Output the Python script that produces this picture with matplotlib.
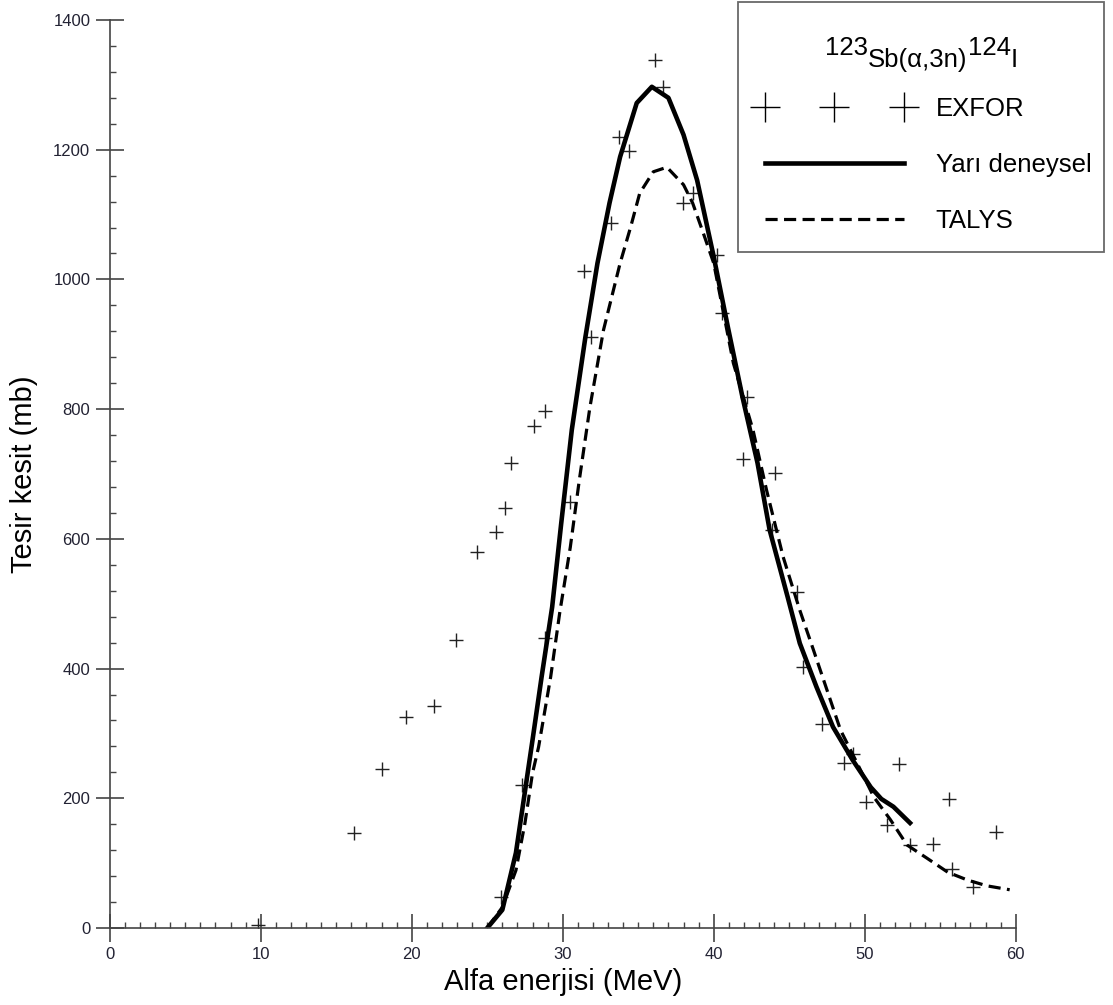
import numpy as np
import matplotlib
matplotlib.use("Agg")
import matplotlib.pyplot as plt
from matplotlib.lines import Line2D
from matplotlib.ticker import MultipleLocator

# EXFOR measurements (MeV, mb)
exfor_e = [9.8, 16.2, 18.0, 19.6, 21.5, 22.9, 24.3, 25.6, 25.9, 26.2, 26.6, 27.3, 28.1, 28.8,
           28.8, 30.5, 31.4, 31.9, 33.2, 33.7, 34.4, 36.1, 36.65, 37.97, 38.6, 40.2, 40.56,
           41.95, 42.2, 43.87, 44.07, 45.5, 45.9, 47.2, 48.6, 49.2, 50.1, 51.5, 52.3, 53.0,
           54.5, 55.6, 55.8, 57.2, 58.7]
exfor_s = [5, 146, 245, 325, 342, 444, 580, 611, 48, 648, 717, 220, 774, 797,
           447, 657, 1013, 911, 1087, 1219, 1198, 1338, 1297, 1118, 1133, 1038, 948,
           723, 819, 614, 701, 518, 402, 315, 254, 268, 194, 159, 253, 128,
           130, 199, 91, 63, 148]

# semi-empirical curve
yd_e = [25.0, 26.0, 26.9, 28.0, 28.6, 29.3, 29.9, 30.6, 31.5, 32.3, 33.1, 33.8, 34.9, 35.9,
        37.0, 38.0, 38.9, 40.0, 40.95, 41.9, 42.9, 43.7, 44.9, 45.7, 46.8, 47.9, 49.2,
        50.4, 51.1, 51.9, 53.0]
yd_s = [0, 28, 116, 290, 387, 495, 624, 768, 911, 1025, 1118, 1189, 1272, 1297,
        1280, 1223, 1153, 1035, 925, 819, 717, 614, 510, 439, 372, 310, 259,
        217, 199, 187, 162]

# TALYS curve
ta_e = [25.0, 26.0, 26.9, 27.5, 28.0, 28.4, 29.2, 29.8, 30.5, 31.1, 31.8, 32.7, 33.8, 34.5,
        35.1, 36.0, 36.9, 38.0, 38.6, 39.3, 40.0, 41.3, 42.6, 43.5, 44.6, 45.7, 46.6,
        47.5, 48.4, 49.5, 50.6, 51.7, 52.8, 54.1, 55.5, 56.8, 58.1, 59.6]
ta_s = [0, 32, 89, 162, 239, 279, 387, 486, 587, 691, 803, 922, 1025, 1081,
        1133, 1166, 1173, 1146, 1118, 1072, 1025, 871, 768, 675, 572, 490, 429,
        367, 305, 254, 202, 167, 128, 108, 86, 74, 65, 59]

plt.rcParams['font.family'] = ['Liberation Sans', 'DejaVu Sans']

fig = plt.figure(figsize=(11.13, 10.05), dpi=100)
ax = fig.add_axes([0.0986, 0.0766, 0.8140, 0.9035])

ax.plot(exfor_e, exfor_s, ls='none', marker='+', ms=10, mew=1.0, color='#222222')
ax.plot(yd_e, yd_s, color='black', lw=3.3, solid_joinstyle='round')
ax.plot(ta_e, ta_s, color='black', lw=2.3, ls=(0, (3.8, 2.0)))

ax.set_xlim(0, 60)
ax.set_ylim(0, 1400)
ax.spines['top'].set_visible(False)
ax.spines['right'].set_visible(False)
for s in ('left', 'bottom'):
    ax.spines[s].set_color('#444444')
    ax.spines[s].set_linewidth(1.2)

ax.xaxis.set_major_locator(MultipleLocator(10))
ax.xaxis.set_minor_locator(MultipleLocator(1))
ax.yaxis.set_major_locator(MultipleLocator(200))
ax.yaxis.set_minor_locator(MultipleLocator(40))
ax.tick_params(which='major', direction='inout', length=20, width=1.2, color='#444444',
               labelsize=12, labelcolor='#222233', pad=4)
ax.tick_params(which='minor', direction='in', length=4, width=1.0, color='#444444')

ax.set_xlabel('Alfa enerjisi (MeV)', fontsize=21)
ax.set_ylabel('Tesir kesit (mb)', fontsize=21)
ax.xaxis.set_label_coords(0.5, -0.044)
ax.yaxis.set_label_coords(-0.079, 0.5)

handles = [
    Line2D([], [], ls='none', marker='+', ms=22, mew=1.0, color='black'),
    Line2D([], [], color='black', lw=3.3),
    Line2D([], [], color='black', lw=2.3, ls=(0, (3.8, 2.0))),
]
labels = ['EXFOR', 'Yarı deneysel', 'TALYS']
leg = fig.legend(handles, labels, loc='upper left',
                 bbox_to_anchor=(738 / 1113, 1 - 252 / 1005, 366 / 1113, 250 / 1005),
                 mode='expand', borderaxespad=0, numpoints=3, handlelength=6.0,
                 handletextpad=0.95, borderpad=0.75, labelspacing=1.24, fancybox=False,
                 edgecolor='#444444', title=' ', title_fontsize=33,
                 prop={'size': 18.5})
leg.get_frame().set_linewidth(1.3)
leg.get_frame().set_facecolor('none')

# reaction label over the legend entries
t1 = fig.text(825 / 1113, 1 - 60 / 1005, '123', fontsize=18.5, va='bottom')
t2 = ax.annotate('Sb(α,3n)', xy=(1, 0), xycoords=t1, xytext=(0, -12),
                 textcoords='offset pixels', fontsize=18.5, va='bottom',
                 annotation_clip=False)
t3 = ax.annotate('124', xy=(1, 0), xycoords=t2, xytext=(0, 12),
                 textcoords='offset pixels', fontsize=18.5, va='bottom',
                 annotation_clip=False)
ax.annotate('I', xy=(1, 0), xycoords=t3, xytext=(0, -12),
            textcoords='offset pixels', fontsize=18.5, va='bottom',
            annotation_clip=False)

fig.savefig('out.png', dpi=100)
